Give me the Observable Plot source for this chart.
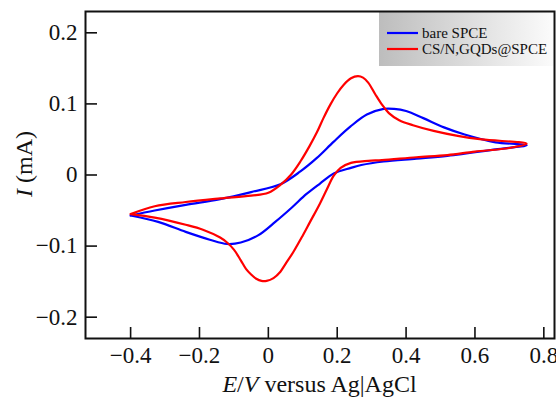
<!DOCTYPE html>
<html><head><meta charset="utf-8">
<script src="https://cdn.jsdelivr.net/npm/d3@7"></script>
<script src="https://cdn.jsdelivr.net/npm/@observablehq/plot@0.6"></script>
<style>body{margin:0;background:#fff} #chart{width:556px;height:400px}</style>
</head><body><div id="chart"></div>
<script>
const xTicks = [-0.4, -0.2, 0, 0.2, 0.4, 0.6, 0.8];
const yTicks = [-0.2, -0.1, 0, 0.1, 0.2];
const seriesNames = ["bare SPCE", "CS/N,GQDs@SPCE"];
const seriesColors = ["#0000ff", "#ff0000"];

// bare SPCE: forward scan (-0.4 -> 0.75) then reverse scan (0.75 -> -0.4)
const blueE = [-0.40, -0.33, -0.24, -0.14, -0.05, 0.035, 0.093, 0.141, 0.19, 0.238, 0.286, 0.335, 0.365, 0.40, 0.45, 0.51, 0.57, 0.66, 0.75,
               0.66, 0.52, 0.43, 0.335, 0.27, 0.24, 0.19, 0.15, 0.11, 0.07, 0.02, -0.03, -0.08, -0.12, -0.17, -0.24, -0.32, -0.40];
const blueI = [-0.057, -0.050, -0.042, -0.034, -0.024, -0.013, 0.005, 0.024, 0.047, 0.068, 0.085, 0.093, 0.093, 0.090, 0.080, 0.067, 0.057, 0.046, 0.042,
               0.036, 0.027, 0.023, 0.019, 0.014, 0.010, 0.002, -0.012, -0.027, -0.045, -0.066, -0.085, -0.095, -0.097, -0.091, -0.080, -0.066, -0.057];
// CS/N,GQDs@SPCE
const redE = [-0.40, -0.33, -0.24, -0.14, -0.05, 0.00, 0.035, 0.065, 0.093, 0.12, 0.141, 0.16, 0.18, 0.20, 0.219, 0.24, 0.26, 0.275, 0.29, 0.31, 0.33, 0.35, 0.38, 0.42, 0.48, 0.55, 0.62, 0.75,
              0.70, 0.60, 0.52, 0.43, 0.33, 0.29, 0.24, 0.21, 0.19, 0.17, 0.15, 0.12, 0.10, 0.073, 0.05, 0.035, 0.015, -0.005, -0.02, -0.035, -0.05, -0.065, -0.08, -0.10, -0.12, -0.14, -0.19, -0.24, -0.33, -0.40];
const redI = [-0.055, -0.044, -0.038, -0.033, -0.029, -0.025, -0.014, 0.000, 0.019, 0.041, 0.060, 0.080, 0.099, 0.115, 0.127, 0.136, 0.139, 0.137, 0.130, 0.114, 0.099, 0.087, 0.077, 0.070, 0.062, 0.055, 0.050, 0.044,
              0.038, 0.033, 0.028, 0.025, 0.021, 0.020, 0.017, 0.010, -0.001, -0.020, -0.040, -0.067, -0.085, -0.108, -0.125, -0.136, -0.145, -0.149, -0.149, -0.146, -0.140, -0.132, -0.120, -0.105, -0.095, -0.088, -0.077, -0.070, -0.060, -0.055];

const W = 556, H = 400, mt = 11, mb = 62, ml = 85, mr = 2;
const innerW = W - ml - mr, innerH = H - mt - mb;
const font = "'Liberation Serif', 'Times New Roman', serif";
const fmt = d => d === 0 ? "0" : (d < 0 ? "\u2212" : "") + Math.abs(d);

const rows = [
  ...blueE.map((e, i) => ({E: e, I: blueI[i], s: seriesNames[0]})),
  ...redE.map((e, i) => ({E: e, I: redI[i], s: seriesNames[1]}))
];

const plot = Plot.plot({
  width: W, height: H,
  marginTop: mt, marginBottom: mb, marginLeft: ml, marginRight: mr,
  style: {fontFamily: font, fontSize: "23px", color: "#111", background: "#fff", overflow: "visible"},
  x: {domain: [-0.531, 0.831]},
  y: {domain: [-0.23, 0.23]},
  color: {domain: seriesNames, range: seriesColors},
  marks: [
    Plot.line(rows, {x: "E", y: "I", z: "s", stroke: "s", strokeWidth: 2.2, curve: "catmull-rom"}),
    Plot.tickX(xTicks, {x: d => d, insetTop: innerH - 11, stroke: "#111", strokeWidth: 1.6}),
    Plot.tickY(yTicks, {y: d => d, insetRight: innerW - 12, stroke: "#111", strokeWidth: 1.6}),
    Plot.axisX(xTicks, {tickSize: 0, tickPadding: 8, label: null, fontSize: 23, tickFormat: fmt}),
    Plot.axisY(yTicks, {tickSize: 0, tickPadding: 8, label: null, fontSize: 23, tickFormat: fmt}),
    Plot.frame({stroke: "#111", strokeWidth: 2})
  ]
});
document.getElementById("chart").appendChild(plot);

const svg = d3.select(plot);
// legend
const defs = svg.append("defs");
const grad = defs.append("linearGradient").attr("id", "lg").attr("x1", "0%").attr("x2", "100%");
grad.append("stop").attr("offset", "0%").attr("stop-color", "#bdbdbd");
grad.append("stop").attr("offset", "100%").attr("stop-color", "#fbfbfb");
const lg = svg.append("g").attr("text-anchor", "start");
lg.append("rect").attr("x", 379).attr("y", 12).attr("width", 174).attr("height", 54).attr("fill", "url(#lg)");
seriesNames.forEach((name, i) => {
  const y = 33 + i * 16;
  lg.append("line").attr("x1", 387).attr("x2", 418).attr("y1", y).attr("y2", y)
    .attr("stroke", seriesColors[i]).attr("stroke-width", 2.2);
  lg.append("text").attr("x", 422).attr("y", y + 5).attr("text-anchor", "start")
    .attr("font-family", font).attr("font-size", 15).attr("fill", "#111").text(name);
});
// x axis title
const xt = svg.append("text").attr("x", ml + innerW / 2).attr("y", 392).attr("text-anchor", "middle")
  .attr("font-family", font).attr("font-size", 24).attr("fill", "#111");
xt.append("tspan").attr("font-style", "italic").text("E");
xt.append("tspan").text("/");
xt.append("tspan").attr("font-style", "italic").text("V");
xt.append("tspan").text(" versus Ag|AgCl");
// y axis title
const yt = svg.append("text").attr("transform", "translate(32,164) rotate(-90)").attr("text-anchor", "middle")
  .attr("font-family", font).attr("font-size", 24).attr("fill", "#111");
yt.append("tspan").attr("font-style", "italic").text("I");
yt.append("tspan").text(" (mA)");
// keep frame on top of legend
svg.node().appendChild(svg.select("[aria-label=frame]").node());
</script>
</body></html>
